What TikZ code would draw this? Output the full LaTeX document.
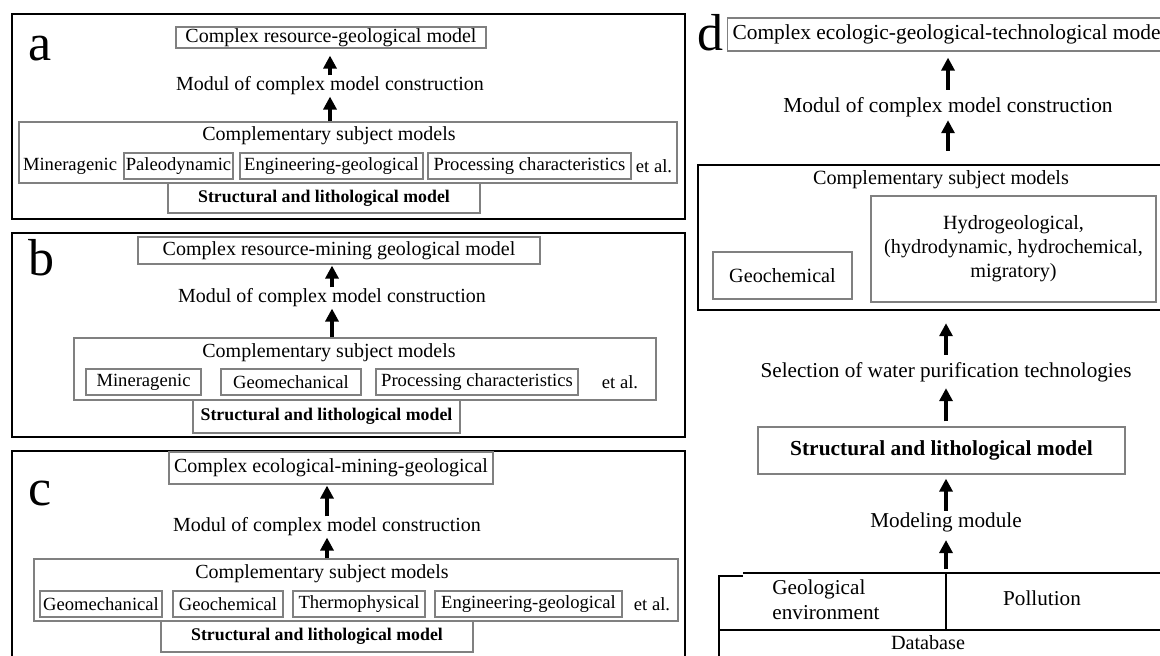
\documentclass[tikz,border=0pt]{standalone}
\usepackage{fontspec}
\setmainfont{Liberation Serif}
\usepackage{tikz}
\usetikzlibrary{arrows.meta,positioning}

\begin{document}
\begin{tikzpicture}[
  x=1pt, y=-1pt,
  font=\fontsize{10}{12}\selectfont,
  panel/.style={draw, line width=1.2pt},
  title/.style={rectangle, draw=black!50, line width=0.6pt, inner sep=0pt},
  gbox/.style={rectangle, draw=black!50, line width=0.6pt, inner sep=0pt, minimum height=13pt, font=\fontsize{9.3}{11}\selectfont},
  item/.style={inner sep=0.5pt, font=\fontsize{9.3}{11}\selectfont},
  lbl/.style={inner sep=0.5pt},
  litho/.style={rectangle, draw=black!50, line width=0.6pt, inner sep=0pt, font=\fontsize{8.9}{10}\selectfont\bfseries},
  letter/.style={anchor=base west, inner sep=0pt, font=\fontsize{26}{26}\selectfont},
  dlbl/.style={inner sep=0.5pt, font=\fontsize{10.6}{12.7}\selectfont},
  dbox/.style={rectangle, draw=black!50, line width=0.6pt, inner sep=0pt, font=\fontsize{10.1}{12}\selectfont},
  tbl/.style={line width=0.9pt},
  arrow/.style={-{Triangle[length=6.5pt,width=6.5pt]}, line width=1.6pt}
]

\path[use as bounding box] (0,0) rectangle (580,327.5);
\clip (0,0) rectangle (580,327.5);
\fill[white] (0,0) rectangle (580,327.5);

% panel a
\draw[panel] (6,7) rectangle (342.5,109.5);
\node[letter] (labA) at (14,30) {a};
\node[title, minimum width=155pt, minimum height=10.5pt] (topA) at (165.5,18.75) {Complex resource-geological model};
\node[lbl] (modA) at (165,43) {Modul of complex model construction};
\node[title, minimum width=329pt, minimum height=30.5pt] (compA) at (174,76.25) {};
\node[lbl] (compAt) at (164.5,68) {Complementary subject models};
\node[item] (minA) at (35,83) {Mineragenic};
\node[gbox, minimum width=54.5pt] (paleoA) at (89.25,83) {Paleodynamic};
\node[gbox, minimum width=91.5pt] (engA) at (165.75,83) {Engineering-geological};
\node[gbox, minimum width=101.5pt] (procA) at (264.75,83) {Processing characteristics};
\node[item] (etalA) at (327,83) {et al.};
\node[litho, minimum width=156pt, minimum height=15pt] (structA) at (162,99) {Structural and lithological model};
\draw[arrow] (compA.north -| modA) -- (modA.south);
\draw[arrow, shorten >=3.5pt] (modA.north) -- (modA.north |- topA.south);

% panel b
\draw[panel] (6,116.5) rectangle (342.5,218.5);
\node[letter] (labB) at (14,137.5) {b};
\node[title, minimum width=201pt, minimum height=13.5pt] (topB) at (169.5,125.25) {Complex resource-mining geological model};
\node[lbl] (modB) at (166,149) {Modul of complex model construction};
\node[title, minimum width=291pt, minimum height=31pt] (compB) at (182.5,184.5) {};
\node[lbl] (compBt) at (164.5,176.5) {Complementary subject models};
\node[gbox, minimum width=57.5pt] (minB) at (71.75,191) {Mineragenic};
\node[gbox, minimum width=70pt] (geomB) at (145.5,191) {Geomechanical};
\node[gbox, minimum width=101pt] (procB) at (238.5,191) {Processing characteristics};
\node[item] (etalB) at (310,191) {et al.};
\node[litho, minimum width=133.5pt, minimum height=16.5pt] (structB) at (163.25,208.25) {Structural and lithological model};
\draw[arrow] (compB.north -| modB) -- (modB.south);
\draw[arrow, shorten >=0.5pt] (modB.north) -- (modB.north |- topB.south);

% panel c
\draw[panel] (6,225.5) rectangle (342.5,340);
\node[letter] (labC) at (14,252.5) {c};
\node[title, minimum width=162pt, minimum height=16pt] (topC) at (165.5,234) {Complex ecological-mining-geological};
\node[lbl] (modC) at (163.5,263.5) {Modul of complex model construction};
\node[title, minimum width=322pt, minimum height=31pt] (compC) at (178,295) {};
\node[lbl] (compCt) at (161,287) {Complementary subject models};
\node[gbox, minimum width=61pt] (geomC) at (50.5,302) {Geomechanical};
\node[gbox, minimum width=55pt] (geochC) at (114,302) {Geochemical};
\node[gbox, minimum width=66pt] (thermC) at (179.5,302) {Thermophysical};
\node[gbox, minimum width=93.5pt] (engC) at (264.25,302) {Engineering-geological};
\node[item] (etalC) at (326,302) {et al.};
\node[litho, minimum width=156pt, minimum height=15.5pt] (structC) at (158.5,318.25) {Structural and lithological model};
\draw[arrow] (compC.north -| modC) -- (modC.south);
\draw[arrow, shorten >=0.5pt] (modC.north) -- (modC.north |- topC.south);

% panel d
\node[letter] (labD) at (348.5,25) {d};
\node[title, anchor=west, minimum height=16.5pt, inner xsep=2.5pt, font=\fontsize{10.7}{12.8}\selectfont] (topD) at (363.5,17.25) {Complex ecologic-geological-technological model};
\node[dlbl, font=\fontsize{10.7}{12.8}\selectfont] (modD) at (474,53.5) {Modul of complex model construction};
\node[draw, line width=1.2pt, minimum width=234pt, minimum height=72.5pt, inner sep=0pt] (compD) at (466,118.75) {};
\node[lbl, font=\fontsize{10.1}{12}\selectfont] (compDt) at (470.5,90) {Complementary subject models};
\node[dbox, minimum width=69.5pt, minimum height=23.5pt] (geochD) at (391.25,137.75) {Geochemical};
\node[dbox, minimum width=142.5pt, minimum height=53pt, align=center] (hydroD) at (506.75,124.5) {Hydrogeological,\\(hydrodynamic, hydrochemical,\\migratory)};
\node[dlbl] (selD) at (473,186) {Selection of water purification technologies};
\node[litho, font=\fontsize{10.7}{12.8}\selectfont\bfseries, minimum width=183.5pt, minimum height=23.5pt] (structD) at (470.75,225.25) {Structural and lithological model};
\node[dlbl] (modelD) at (473,261) {Modeling module};

% database table
\draw[tbl] (359,288) -- (371.5,288);
\draw[tbl] (371.5,286.5) -- (585,286.5);
\draw[tbl] (359.5,288) -- (359.5,335);
\draw[tbl] (473,286.5) -- (473,315);
\draw[tbl] (359.5,315) -- (585,315);
\coordinate (dbtop) at (473,286.5);
\node[dlbl, anchor=west, align=left] (geoenvD) at (385.5,300) {Geological\\environment};
\node[dlbl] (pollD) at (521,299) {Pollution};
\node[dlbl, font=\fontsize{10.1}{12}\selectfont] (dbD) at (464,321.5) {Database};

\draw[arrow, shorten <=3pt, shorten >=3pt] (modD.north) -- (modD.north |- topD.south);
\draw[arrow, shorten <=6.5pt, shorten >=1pt] (modD.south |- compD.north) -- (modD.south);
\draw[arrow, shorten <=3pt, shorten >=6pt] (selD.north) -- (selD.north |- compD.south);
\draw[arrow, shorten <=2.5pt, shorten >=2.5pt] (selD.south |- structD.north) -- (selD.south);
\draw[arrow, shorten >=2pt] (modelD.north) -- (modelD.north |- structD.south);
\draw[arrow, shorten <=2pt, shorten >=3.5pt] (dbtop) -- (modelD.south);

\end{tikzpicture}
\end{document}
